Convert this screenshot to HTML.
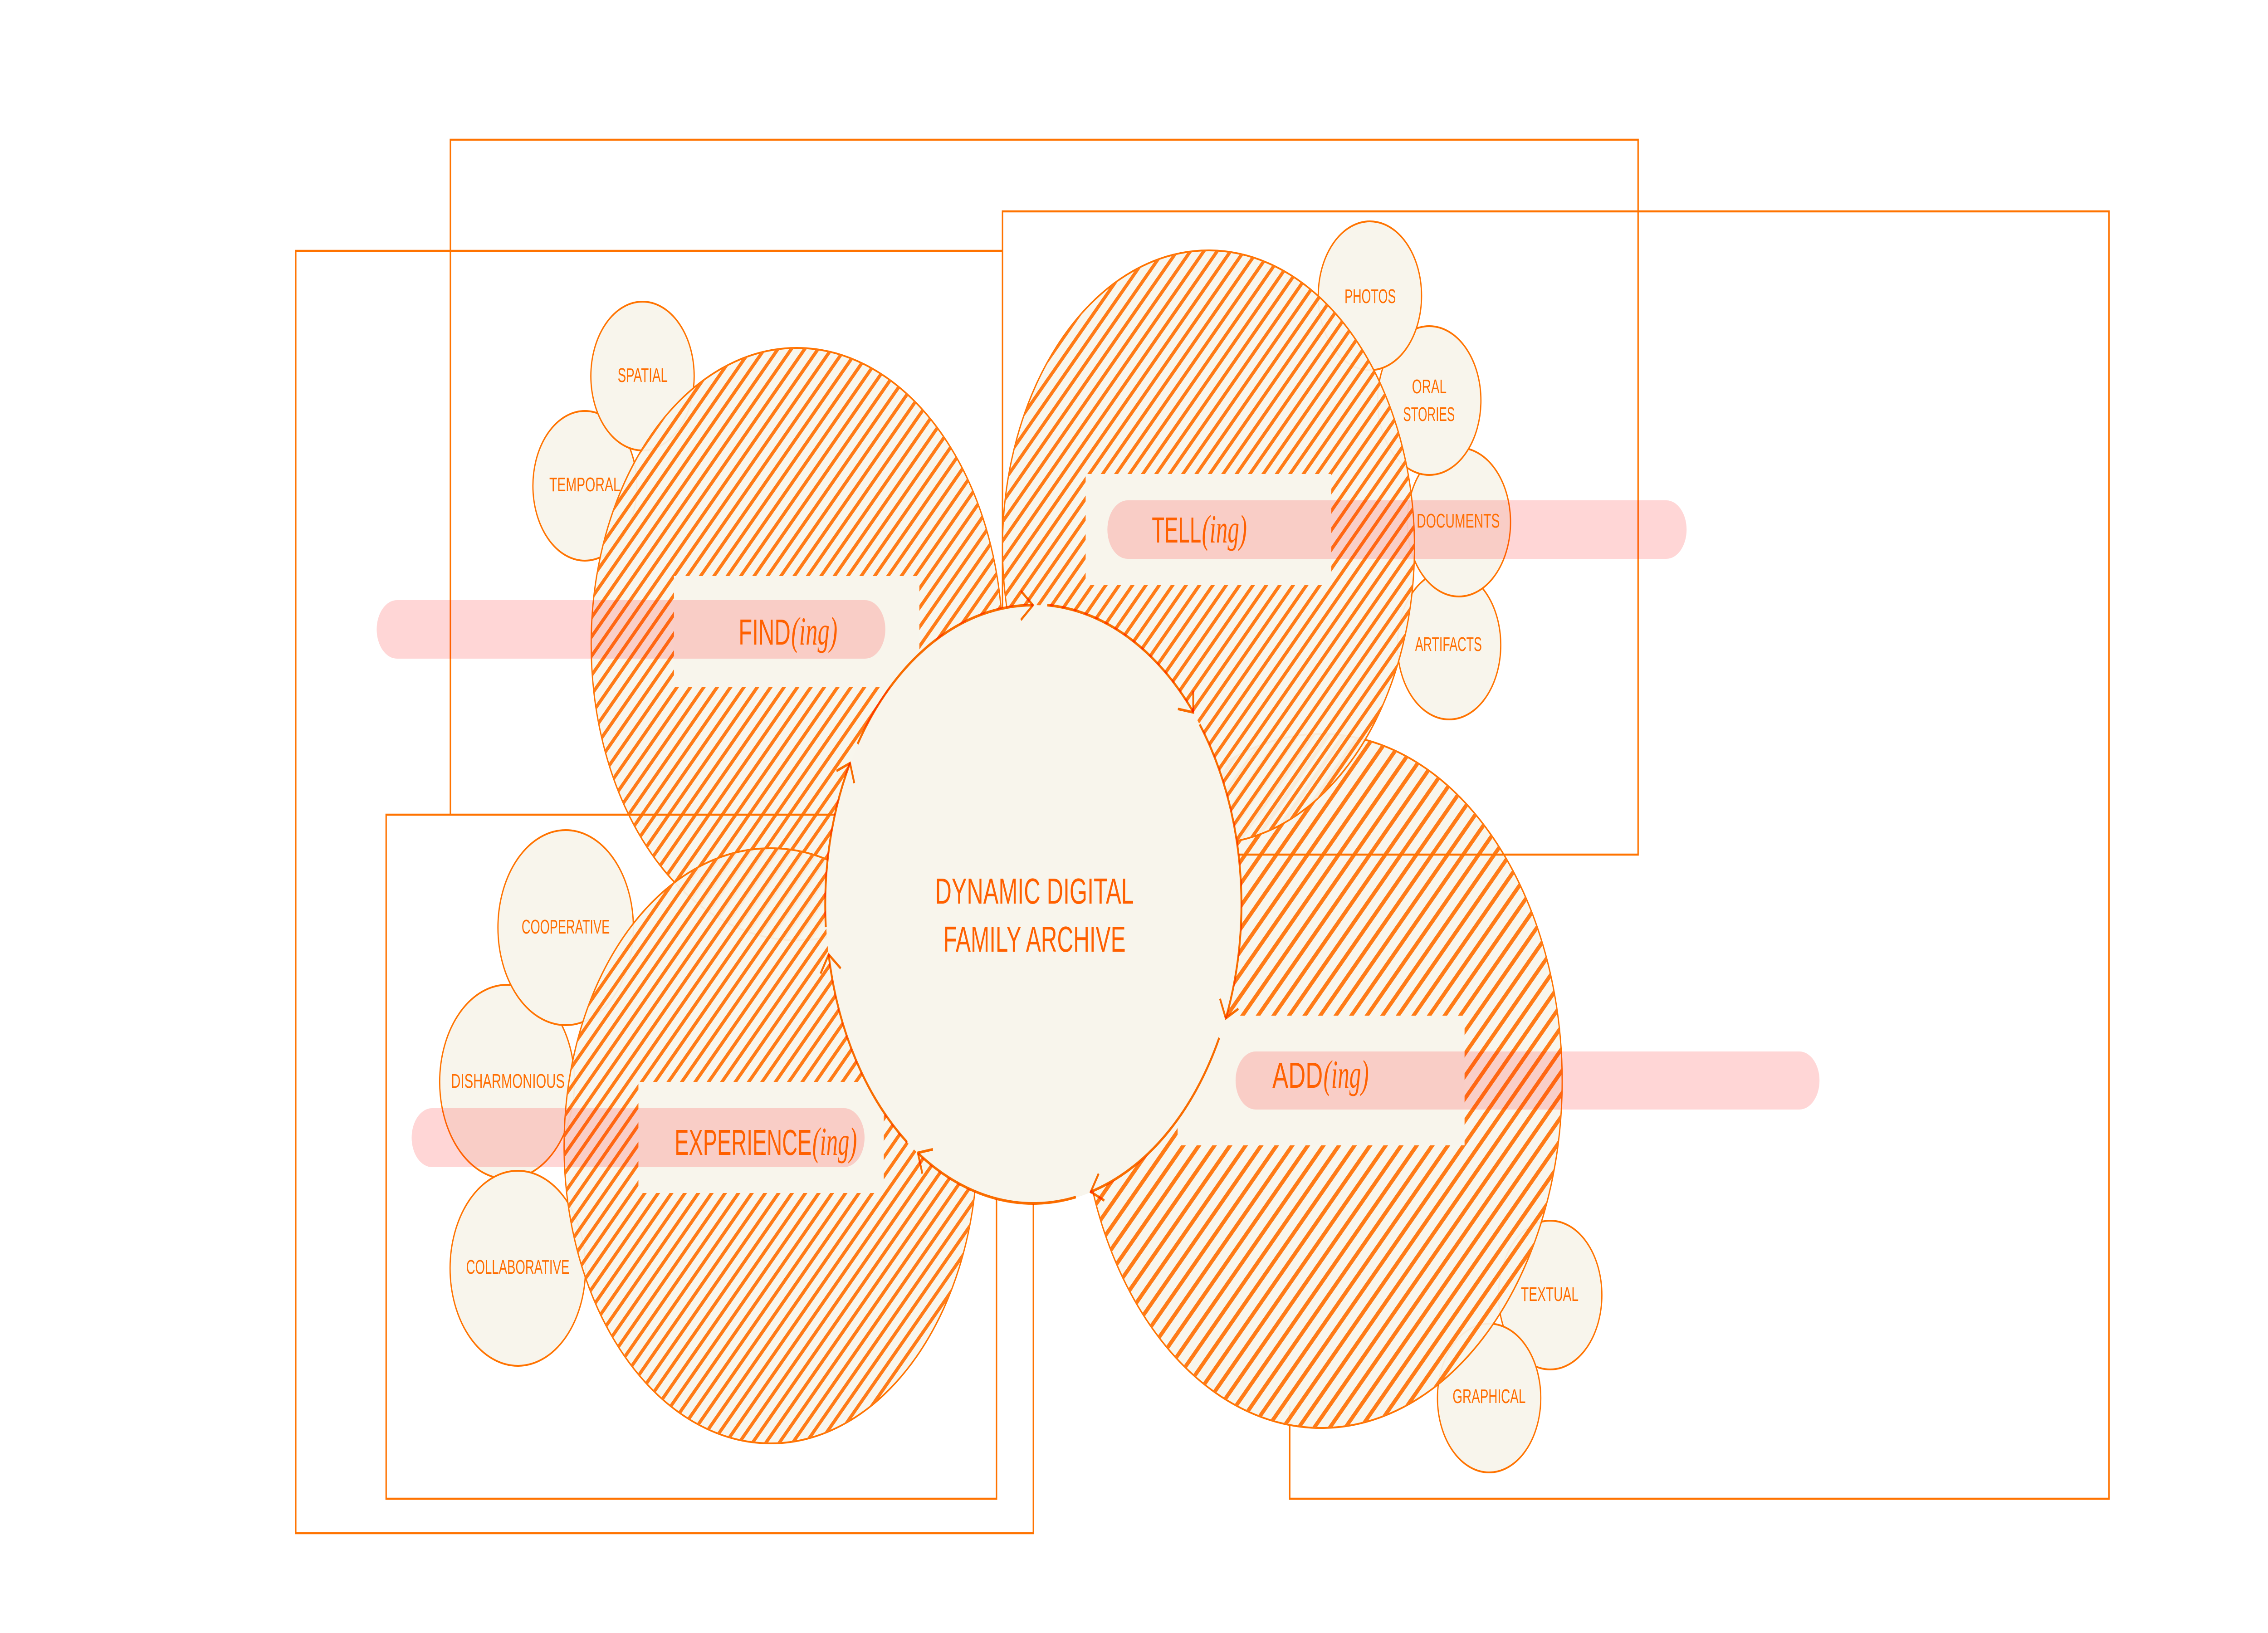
<!DOCTYPE html>
<html lang="en">
<head>
<meta charset="utf-8">
<title>Dynamic Digital Family Archive</title>
<style>
html,body{margin:0;padding:0;background:#fff;width:100%;height:100%;overflow:hidden}
svg{display:block;width:100vw;height:100vh}
text{font-family:"Liberation Sans",sans-serif;fill:#ff6d00}
.s{font-size:44px}
.b{font-size:80px;fill:#ff6000}
.i{font-family:"Liberation Serif",serif;font-style:italic;font-size:88px;fill:#ff6000}
.r{fill:none;stroke:#ff7300;stroke-width:4.5}
.c{fill:#f8f5ec;stroke:#ff7300;stroke-width:4}
.h{fill:#f8f5ec;fill-opacity:.93;stroke:#ff7300;stroke-width:4}
.st{fill:none;stroke:#ff7b17}
.box{fill:#f8f5ec}
.p{fill:#ff0000;fill-opacity:.16}
.a{fill:none;stroke:#ff7000;stroke-width:6;mix-blend-mode:multiply}
</style>
</head>
<body>
<svg xmlns="http://www.w3.org/2000/svg" viewBox="0 0 7201 3600" preserveAspectRatio="none">
<defs>
<clipPath id="cf"><circle cx="2530" cy="1420" r="653"/></clipPath>
<clipPath id="ct"><circle cx="3837" cy="1206" r="654"/></clipPath>
<clipPath id="ca"><circle cx="4195" cy="2383" r="765"/></clipPath>
<clipPath id="ce"><circle cx="2447" cy="2526" r="656"/></clipPath>
</defs>
<rect width="7201" height="3600" fill="#fff"/>

<polyline class="r" points="3183,553 939,553 939,3380 3281,3380 3281,2600"/>
<polyline class="r" points="3183,1340 3183,466 6696,466 6696,3304 4095,3304 4095,3100"/>

<circle class="c" cx="1857" cy="1071" r="165"/>
<circle class="c" cx="2040" cy="829" r="164"/>
<circle class="c" cx="4601" cy="1422" r="164"/>
<circle class="c" cx="4632" cy="1151" r="164"/>
<circle class="c" cx="4538" cy="883" r="164"/>
<circle class="c" cx="4349.5" cy="652" r="164"/>
<circle class="c" cx="4922" cy="2855" r="164"/>
<circle class="c" cx="4728" cy="3082" r="164"/>
<circle class="c" cx="1610" cy="2385" r="214"/>
<circle class="c" cx="1796" cy="2045" r="215"/>
<circle class="c" cx="1644" cy="2796" r="215"/>

<circle class="h" cx="4195" cy="2383" r="765"/>
<g clip-path="url(#ca)"><line class="st" x1="3352" y1="1540" x2="5037.2" y2="3225.2" stroke-width="1900" stroke-dasharray="10.5 24.43"/></g>
<polyline class="r" points="3800,1884 5201,1884 5201,308 1430,308 1430,1796"/>
<circle class="h" cx="2530" cy="1420" r="653"/>
<g clip-path="url(#cf)"><line class="st" x1="1810.3" y1="700.3" x2="3249" y2="2139" stroke-width="1600" stroke-dasharray="9 21.05"/></g>
<circle class="h" cx="3837" cy="1206" r="654"/>
<g clip-path="url(#ct)"><line class="st" x1="3117.8" y1="486.8" x2="4555.5" y2="1924.5" stroke-width="1600" stroke-dasharray="9 21.05"/></g>
<polyline class="r" points="3164,2600 3164,3304 1226,3304 1226,1796 2800,1796"/>
<circle class="h" cx="2447" cy="2526" r="656"/>
<g clip-path="url(#ce)"><line class="st" x1="1722.3" y1="1801.3" x2="3171" y2="3250" stroke-width="1600" stroke-dasharray="9 21.05"/></g>

<rect class="box" x="2140" y="1270" width="779" height="245"/>
<rect class="box" x="3447" y="1045" width="780" height="245"/>
<rect class="box" x="3739" y="2239" width="911" height="286"/>
<rect class="box" x="2027" y="2385" width="779" height="245"/>

<circle cx="3281.5" cy="1994" r="660" fill="#f8f5ec"/>

<rect class="p" x="1196" y="1323" width="1615" height="129" rx="64.5"/>
<rect class="p" x="3516" y="1103" width="1839" height="129" rx="64.5"/>
<rect class="p" x="3923" y="2318" width="1854" height="128" rx="64"/>
<rect class="p" x="1307" y="2443" width="1438" height="130" rx="65"/>

<path class="a" d="M2723,1640A660,660 0 0 1 3280,1334"/>
<path class="a" d="M3325,1334A660,660 0 0 1 3789,1570"/>
<path class="a" d="M3809,1597A660,660 0 0 1 3892,2245"/>
<path class="a" d="M3871,2288A660,660 0 0 1 3461,2628"/>
<path class="a" d="M3416,2639A660,660 0 0 1 2916,2543"/>
<path class="a" d="M2880,2518A660,660 0 0 1 2631,2104"/>
<path class="a" d="M2622,2044A660,660 0 0 1 2699,1682"/>
<g transform="translate(2500 1250) scale(.9566)">
<polyline class="a" points="775,55 815,88 775,122"/>
<polyline class="a" points="1296,327 1347,335 1347,285"/>
<polyline class="a" points="1436,995 1455,1040 1497,1018"/>
<polyline class="a" points="1033,1398 1007,1440 1052,1460"/>
<polyline class="a" points="483,1342 433,1350 448,1398"/>
<polyline class="a" points="177,925 137,893 110,937"/>
<polyline class="a" points="163,470 208,452 222,498"/>
</g>

<text class="b" x="2969" y="1992" textLength="631" lengthAdjust="spacingAndGlyphs">DYNAMIC DIGITAL</text>
<text class="b" x="2995" y="2098" textLength="579" lengthAdjust="spacingAndGlyphs">FAMILY ARCHIVE</text>

<text class="b" x="2345" y="1421" textLength="165" lengthAdjust="spacingAndGlyphs">FIND</text>
<text class="i" x="2512" y="1421" textLength="147" lengthAdjust="spacingAndGlyphs">(ing)</text>
<text class="b" x="3657" y="1196" textLength="157" lengthAdjust="spacingAndGlyphs">TELL</text>
<text class="i" x="3816" y="1196" textLength="143" lengthAdjust="spacingAndGlyphs">(ing)</text>
<text class="b" x="4040" y="2398" textLength="160" lengthAdjust="spacingAndGlyphs">ADD</text>
<text class="i" x="4202" y="2398" textLength="144" lengthAdjust="spacingAndGlyphs">(ing)</text>
<text class="b" x="2142" y="2546" textLength="435" lengthAdjust="spacingAndGlyphs">EXPERIENCE</text>
<text class="i" x="2579" y="2546" textLength="142" lengthAdjust="spacingAndGlyphs">(ing)</text>

<text class="s" x="1961" y="842" textLength="159" lengthAdjust="spacingAndGlyphs">SPATIAL</text>
<text class="s" x="1744" y="1083" textLength="226" lengthAdjust="spacingAndGlyphs">TEMPORAL</text>
<text class="s" x="4269" y="668" textLength="163" lengthAdjust="spacingAndGlyphs">PHOTOS</text>
<text class="s" x="4483" y="867" textLength="110" lengthAdjust="spacingAndGlyphs">ORAL</text>
<text class="s" x="4455" y="928" textLength="164" lengthAdjust="spacingAndGlyphs">STORIES</text>
<text class="s" x="4498" y="1163" textLength="264" lengthAdjust="spacingAndGlyphs">DOCUMENTS</text>
<text class="s" x="4493" y="1435" textLength="212" lengthAdjust="spacingAndGlyphs">ARTIFACTS</text>
<text class="s" x="4829" y="2868" textLength="183" lengthAdjust="spacingAndGlyphs">TEXTUAL</text>
<text class="s" x="4612" y="3093" textLength="232" lengthAdjust="spacingAndGlyphs">GRAPHICAL</text>
<text class="s" x="1656" y="2058" textLength="280" lengthAdjust="spacingAndGlyphs">COOPERATIVE</text>
<text class="s" x="1432" y="2398" textLength="361" lengthAdjust="spacingAndGlyphs">DISHARMONIOUS</text>
<text class="s" x="1480" y="2808" textLength="328" lengthAdjust="spacingAndGlyphs">COLLABORATIVE</text>
</svg>
</body>
</html>
